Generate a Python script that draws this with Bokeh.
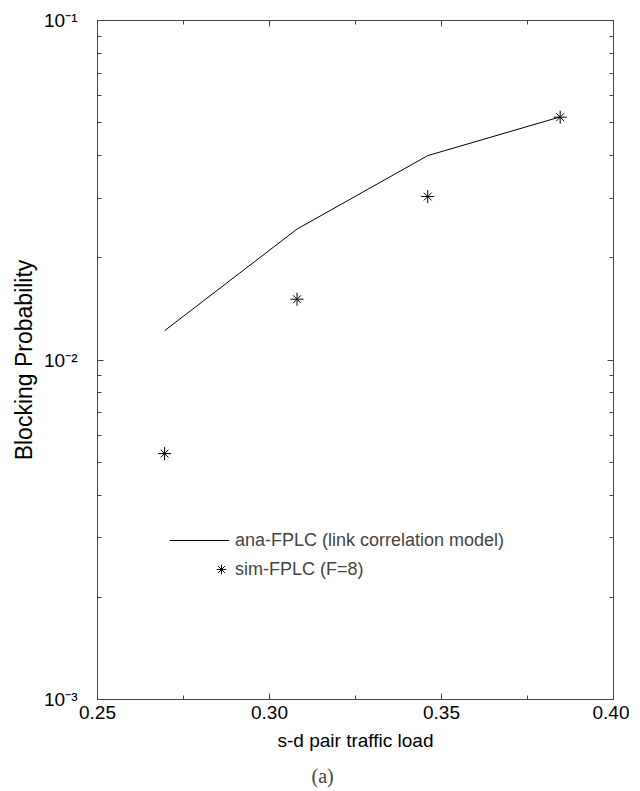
from bokeh.plotting import figure
from bokeh.models import (ColumnDataSource, Legend, LegendItem, FixedTicker,
                          LinearAxis, LogAxis, NumeralTickFormatter, CustomJSTickFormatter, Title)
from bokeh.embed import file_html
from bokeh.resources import INLINE

# ---- data ----
load = [0.2695, 0.308, 0.346, 0.3845]
ana_fplc = [0.0122, 0.0243, 0.0400, 0.0520]
sim_fplc = [0.0053, 0.0151, 0.0303, 0.0519]

x_major = [0.25, 0.30, 0.35, 0.40]
x_minor = [0.275, 0.325, 0.375]
decades = [-3, -2, -1]

y_major = [10.0 ** d for d in decades]
y_minor = [k * 10.0 ** d for d in decades[:-1] for k in range(2, 10)]

FONT = "Liberation Sans"
AXC = "#444444"

src_ana = ColumnDataSource(dict(x=load, y=ana_fplc))
src_sim = ColumnDataSource(dict(x=load, y=sim_fplc))

p = figure(frame_width=516, frame_height=679, y_axis_type="log",
           x_range=(0.25, 0.40), y_range=(1e-3, 1e-1),
           output_backend="svg", toolbar_location=None,
           min_border_left=90, min_border_right=16, min_border_top=20, min_border_bottom=70)
p.background_fill_color = "white"
p.border_fill_color = "white"
p.outline_line_color = AXC
p.outline_line_width = 1
p.grid.visible = False

sup_js = """
const m = {"-":"\u207b","0":"\u2070","1":"\u00b9","2":"\u00b2","3":"\u00b3","4":"\u2074","5":"\u2075","6":"\u2076","7":"\u2077","8":"\u2078","9":"\u2079"};
const e = Math.round(Math.log10(tick));
return "10" + String(e).split("").map(c => m[c]).join("");
"""

# x axis (bottom)
xa = p.xaxis[0]
xa.ticker = FixedTicker(ticks=x_major, minor_ticks=x_minor)
xa.formatter = NumeralTickFormatter(format="0.00")
xa.axis_label = "s-d pair traffic load"
# y axis (left)
ya = p.yaxis[0]
ya.ticker = FixedTicker(ticks=y_major, minor_ticks=y_minor)
ya.formatter = CustomJSTickFormatter(code=sup_js)
ya.axis_label = "Blocking Probability"

for ax in (xa, ya):
    ax.axis_line_color = AXC
    ax.major_tick_line_color = AXC
    ax.minor_tick_line_color = AXC
    ax.major_tick_in = 6
    ax.major_tick_out = 0
    ax.minor_tick_in = 4
    ax.minor_tick_out = 0
    ax.major_label_text_font = FONT
    ax.major_label_text_font_size = "19px"
    ax.major_label_text_color = "black"
    ax.axis_label_text_font = FONT
    ax.axis_label_text_font_style = "normal"
    ax.axis_label_text_color = "black"

xa.axis_label_text_font_size = "19px"
xa.major_label_standoff = 6
xa.axis_label_standoff = 8
ya.axis_label_text_font_size = "23px"
ya.major_label_standoff = 20
ya.axis_label_standoff = 4

# mirrored axes (ticks only)
ta = LinearAxis(ticker=FixedTicker(ticks=x_major, minor_ticks=x_minor))
ra = LogAxis(ticker=FixedTicker(ticks=y_major, minor_ticks=y_minor))
for ax in (ta, ra):
    ax.axis_line_color = AXC
    ax.major_tick_line_color = AXC
    ax.minor_tick_line_color = AXC
    ax.major_tick_in = 6
    ax.major_tick_out = 0
    ax.minor_tick_in = 4
    ax.minor_tick_out = 0
    ax.major_label_text_font_size = "0px"
    ax.major_label_standoff = 0
    ax.formatter = CustomJSTickFormatter(code="return '';")
p.add_layout(ta, "above")
p.add_layout(ra, "right")

# glyphs
r_line = p.line("x", "y", source=src_ana, line_color="black", line_width=1)
r_s1 = p.scatter("x", "y", source=src_sim, marker="cross", size=13,
                 line_color="black", line_width=1)
r_s2 = p.scatter("x", "y", source=src_sim, marker="x", size=11,
                 line_color="black", line_width=1)

leg1 = Legend(items=[LegendItem(label="ana-FPLC (link correlation model)", renderers=[r_line])],
              location=(72, 147), glyph_width=60, glyph_height=24, label_height=24,
              label_standoff=6, padding=0, margin=0, border_line_color=None,
              background_fill_alpha=0, label_text_font=FONT, label_text_font_size="18px")
leg2 = Legend(items=[LegendItem(label="sim-FPLC (F=8)", renderers=[r_s1, r_s2])],
              location=(110, 118), glyph_width=28, glyph_height=24, label_height=24,
              label_standoff=0, padding=0, margin=0, border_line_color=None,
              background_fill_alpha=0, label_text_font=FONT, label_text_font_size="18px")
p.add_layout(leg1, "center")
p.add_layout(leg2, "center")

# spacer on the far left so the y-axis label sits a little further right
p.add_layout(Title(text=" ", text_font_size="2px", standoff=4), "left")

cap = Title(text="(a)", align="left", offset=214, text_font="Liberation Serif",
            text_font_size="20px", text_font_style="normal", standoff=18)
p.add_layout(cap, "below")

open("out.html", "w").write(file_html(p, INLINE))
